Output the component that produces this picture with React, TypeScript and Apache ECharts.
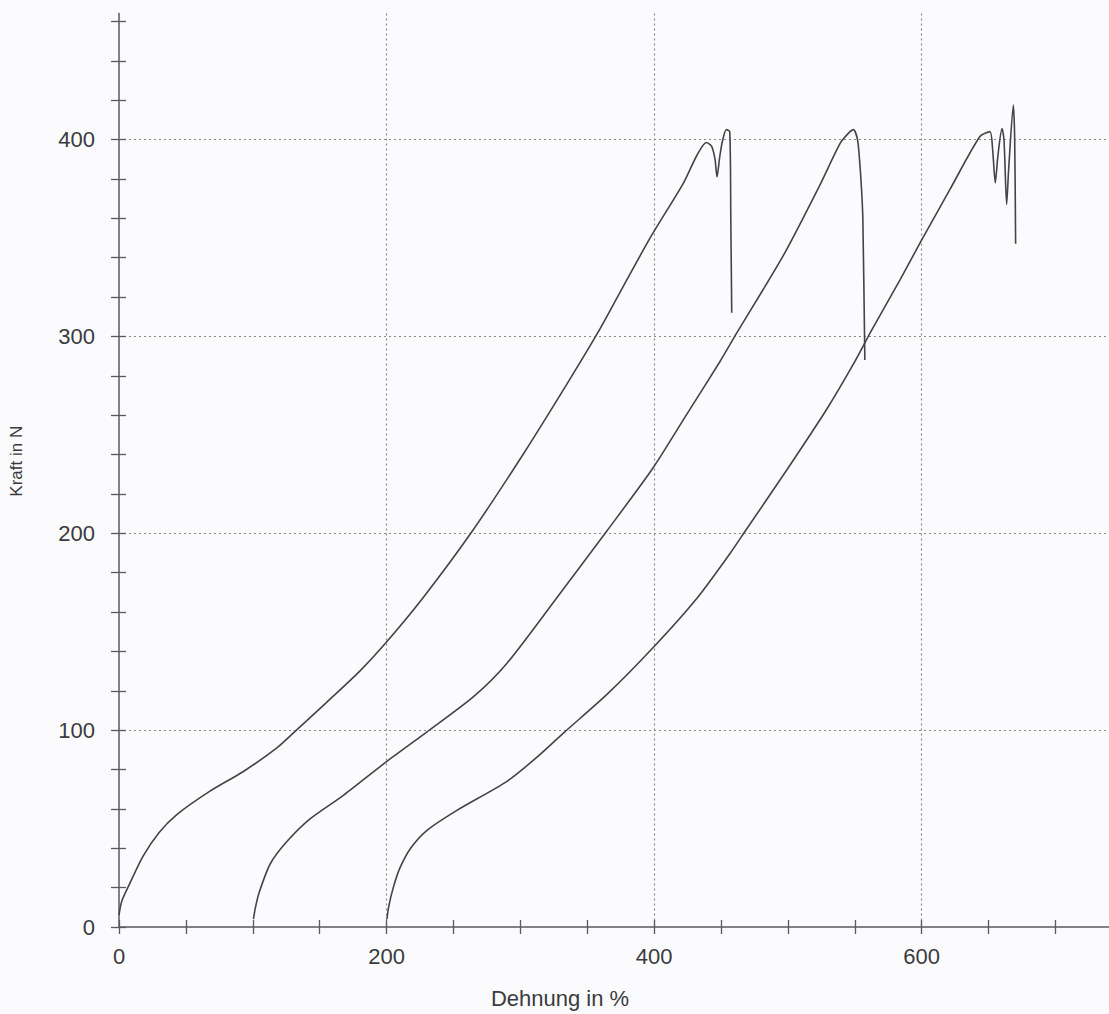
import React, { useEffect, useRef } from "react";
import * as echarts from "echarts";

// Dehnung in % (x) / Kraft in N (y) – three tensile test curves
const probe1: number[][] = [
  [0, 6], [2, 13], [8, 22], [18, 36], [30, 48], [43, 57], [68, 69], [93, 79],
  [118, 91], [131, 99], [155, 114], [180, 130], [199, 144], [227, 167],
  [264, 201], [302, 240], [335, 276], [358, 302], [375, 323], [397, 350],
  [422, 378], [432, 392], [439, 398.5], [443, 396.5], [445.5, 390], [447, 381],
  [449, 391], [451, 399], [454, 405], [456.5, 404], [457.3, 360], [458, 312],
];
const probe2: number[][] = [
  [100.5, 4], [102, 10], [105, 18], [113, 32], [125, 43], [143, 55],
  [168, 67], [200, 84], [230, 99], [265, 117], [290, 134], [327, 167],
  [364.5, 201], [399, 233], [424, 260], [449, 287], [462, 302], [496.5, 341],
  [524, 377], [539, 398], [545, 403], [549, 405], [552, 400], [553.5, 390],
  [555, 375], [556, 360], [557.5, 288],
];
const probe3: number[][] = [
  [200.3, 4], [201.5, 10], [205, 20], [210, 30], [218, 40], [230, 49],
  [252, 59], [290, 74], [312, 86], [333, 99], [364.5, 118], [400, 142.5],
  [432, 167], [457, 190], [468, 201], [499, 232], [529, 263],
  [549, 286], [562.5, 303], [584, 329], [600, 349], [621, 374.5], [643.5, 401.5],
  [651, 404], [653, 395], [655, 378], [657, 392], [660, 405.5], [661.5, 400],
  [663.5, 367], [665, 385], [668.5, 417.5], [669.5, 400], [670.2, 347],
];

const xTickValues = [0, 50, 100, 150, 200, 250, 300, 350, 400, 450, 500, 550, 600, 650, 700];
const xLabelValues = [0, 200, 400, 600];
const xGridValues = [200, 400, 600];
const yTickValues = [0, 20, 40, 60, 80, 100, 120, 140, 160, 180, 200, 220, 240, 260, 280, 300, 320, 340, 360, 380, 400, 420, 440, 460];
const yLabelValues = [0, 100, 200, 300, 400];
const yGridValues = [100, 200, 300, 400];

const X_MAX = 740;
const Y_MAX = 464;
const FONT = "'Liberation Sans', Arial, Helvetica, sans-serif";
const AXIS_COLOR = "#5a5a5e";
const TEXT_COLOR = "#3a3a40";
const GRID_COLOR = "#8a8a8e";
const CURVE_COLOR = "#444448";

export default function App() {
  const ref = useRef<HTMLDivElement>(null);
  useEffect(() => {
    if (!ref.current) return;
    const chart = echarts.init(ref.current, undefined, { renderer: "svg" });
    const baseX = { type: "value", min: 0, max: X_MAX, position: "bottom", gridIndex: 0 };
    const baseY = { type: "value", min: 0, max: Y_MAX, position: "left", gridIndex: 0 };
    const lineSeries = (name: string, data: number[][]) => ({
      name,
      type: "line",
      data,
      xAxisIndex: 0,
      yAxisIndex: 0,
      showSymbol: false,
      symbol: "none",
      smooth: 0.25,
      lineStyle: { color: CURVE_COLOR, width: 1.6 },
      z: 5,
    });
    chart.setOption({
      animation: false,
      backgroundColor: "#fbfbfd",
      grid: { left: 119, right: 0, top: 13.5, bottom: 85 },
      xAxis: [
        {
          ...baseX,
          name: "Dehnung in %",
          nameLocation: "middle",
          nameGap: 60,
          nameTextStyle: { fontFamily: FONT, fontSize: 22, color: TEXT_COLOR, padding: [0, 108, 0, 0] },
          axisLine: { show: true, onZero: false, lineStyle: { color: AXIS_COLOR, width: 1.5 } },
          axisTick: { show: true, customValues: xTickValues, length: 7, inside: false, lineStyle: { color: AXIS_COLOR, width: 1.3 } },
          axisLabel: { show: true, customValues: xLabelValues, margin: 18, fontFamily: FONT, fontSize: 22, color: TEXT_COLOR },
          splitLine: { show: false },
        },
        {
          ...baseX,
          axisLine: { show: false },
          axisTick: { show: true, customValues: xTickValues, length: 7, inside: true, lineStyle: { color: AXIS_COLOR, width: 1.3 } },
          axisLabel: { show: false },
          splitLine: { show: false },
        },
        {
          ...baseX,
          axisLine: { show: false },
          axisTick: { show: false, customValues: xGridValues },
          axisLabel: { show: false },
          splitLine: { show: true, lineStyle: { color: GRID_COLOR, width: 1.2, type: [2, 3] } },
        },
      ],
      yAxis: [
        {
          ...baseY,
          name: "Kraft in N",
          nameLocation: "middle",
          nameGap: 94,
          nameRotate: 90,
          nameTextStyle: { fontFamily: FONT, fontSize: 17, color: TEXT_COLOR, padding: [0, 0, 0, 18] },
          axisLine: { show: true, onZero: false, lineStyle: { color: AXIS_COLOR, width: 1.5 } },
          axisTick: { show: true, customValues: yTickValues, length: 8, inside: false, lineStyle: { color: AXIS_COLOR, width: 1.3 } },
          axisLabel: { show: true, customValues: yLabelValues, margin: 24, fontFamily: FONT, fontSize: 22, color: TEXT_COLOR },
          splitLine: { show: false },
        },
        {
          ...baseY,
          axisLine: { show: false },
          axisTick: { show: true, customValues: yTickValues, length: 7, inside: true, lineStyle: { color: AXIS_COLOR, width: 1.3 } },
          axisLabel: { show: false },
          splitLine: { show: false },
        },
        {
          ...baseY,
          axisLine: { show: false },
          axisTick: { show: false, customValues: yGridValues },
          axisLabel: { show: false },
          splitLine: { show: true, lineStyle: { color: GRID_COLOR, width: 1.2, type: [2, 3] } },
        },
      ],
      series: [
        lineSeries("Probe 1", probe1),
        lineSeries("Probe 2", probe2),
        lineSeries("Probe 3", probe3),
      ],
    });
    return () => chart.dispose();
  }, []);
  return (
    <div
      ref={ref}
      style={{ position: "fixed", left: 0, top: 0, width: 1109, height: 1014 }}
    />
  );
}
